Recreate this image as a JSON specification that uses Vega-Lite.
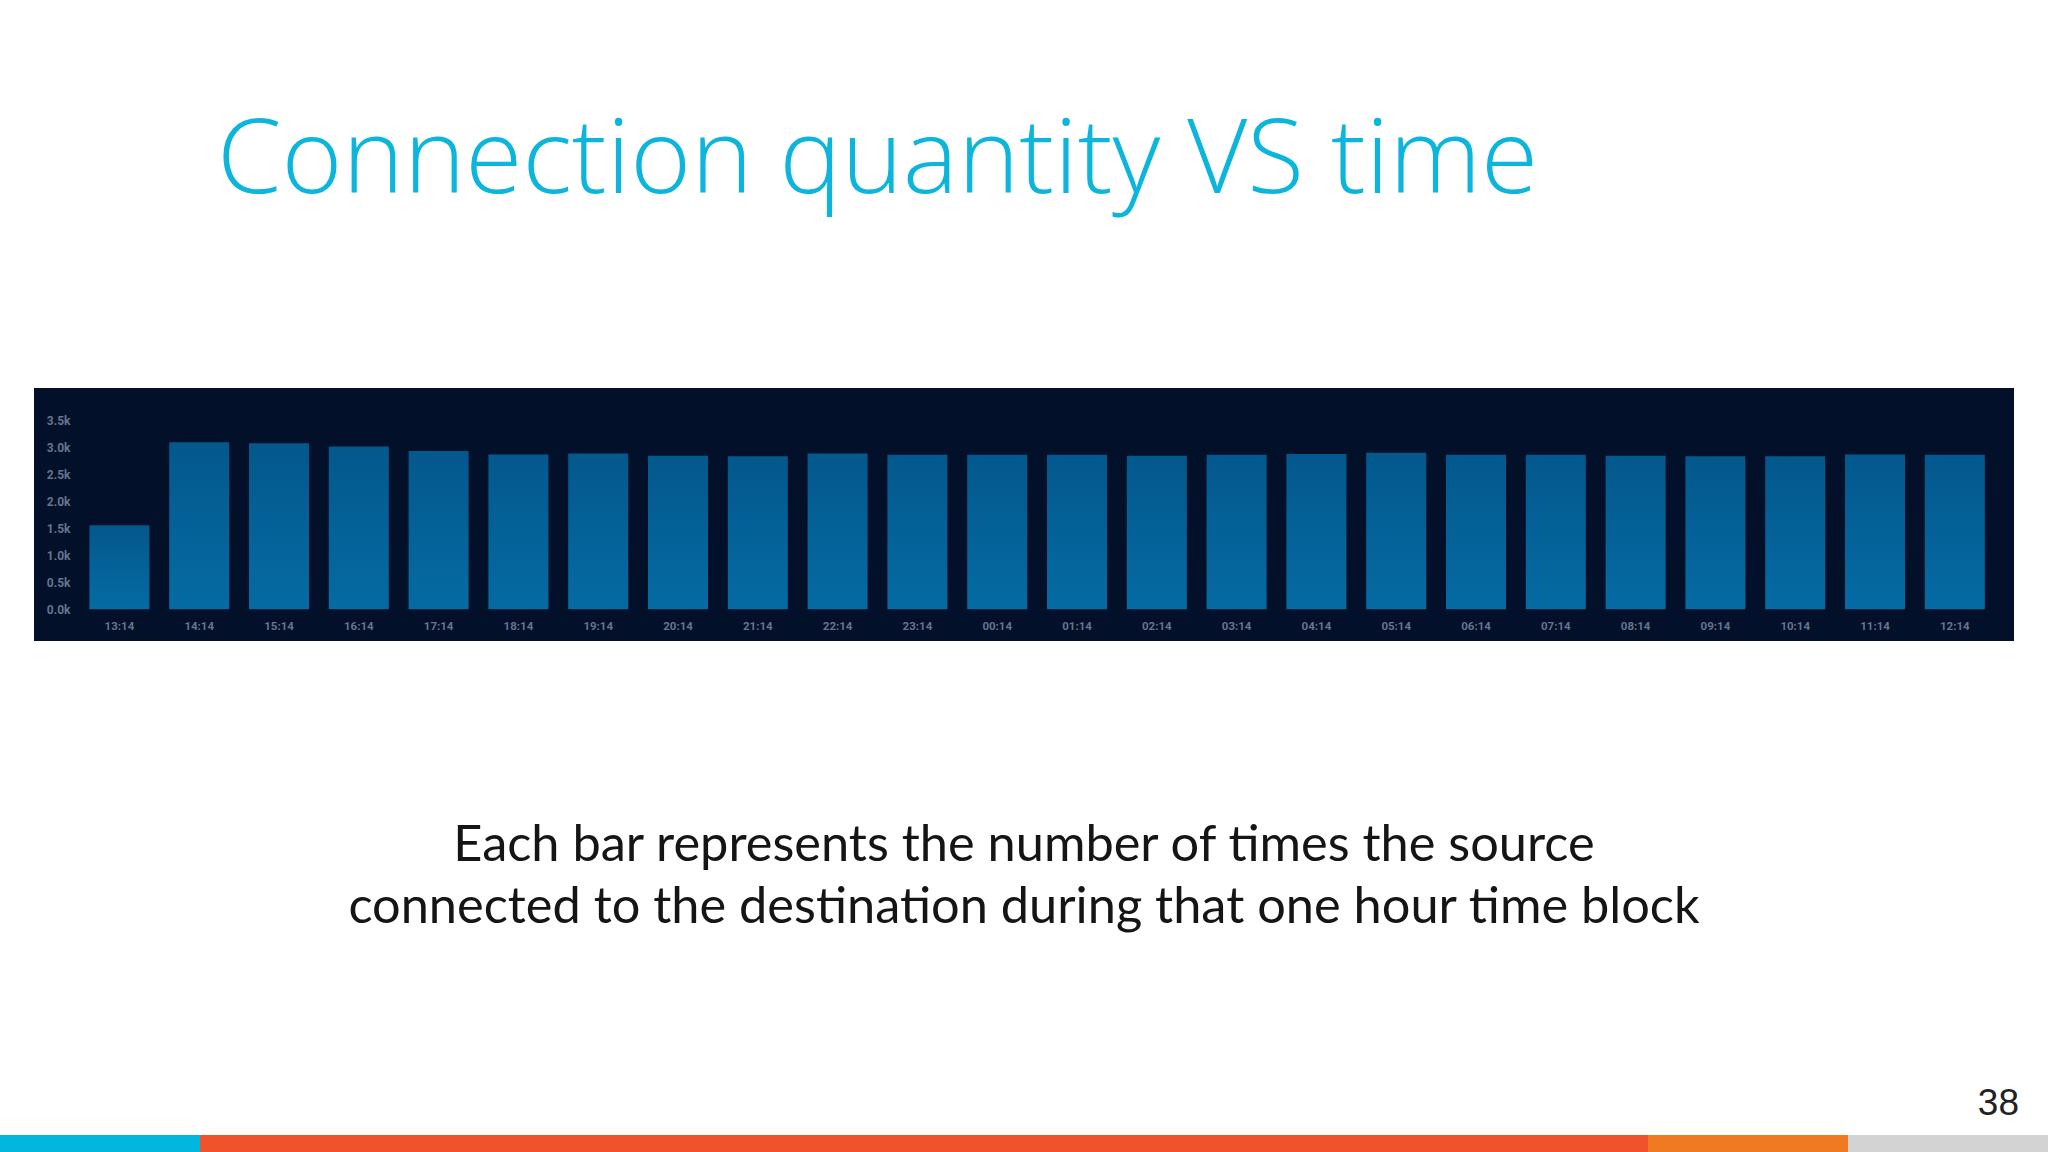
{
  "$schema": "https://vega.github.io/schema/vega-lite/v6.json",
  "background": "white",
  "padding": {"left": 0, "right": 0, "top": 110, "bottom": 0},
  "title": {
    "text": "Connection quantity VS time",
    "anchor": "start",
    "frame": "group",
    "dx": 217,
    "offset": 173,
    "font": "Open Sans",
    "fontWeight": 300,
    "fontSize": 104,
    "color": "#0bb5dc"
  },
  "center": true,
  "spacing": 151,
  "vconcat": [
    {
      "width": 1980,
      "height": 253,
      "view": {"fill": "#021029", "stroke": null},
      "title": {
        "text": [
          "Each bar represents the number of times the source",
          "connected to the destination during that one hour time block"
        ],
        "orient": "bottom",
        "anchor": "middle",
        "offset": 180,
        "font": "Lato",
        "fontWeight": 400,
        "fontSize": 50.5,
        "lineHeight": 62,
        "color": "#151515"
      },
      "data": {
        "values": [
          {"hour": "13:14", "connections": 1560},
          {"hour": "14:14", "connections": 3100},
          {"hour": "15:14", "connections": 3080},
          {"hour": "16:14", "connections": 3020},
          {"hour": "17:14", "connections": 2940},
          {"hour": "18:14", "connections": 2875},
          {"hour": "19:14", "connections": 2890},
          {"hour": "20:14", "connections": 2850},
          {"hour": "21:14", "connections": 2840},
          {"hour": "22:14", "connections": 2890},
          {"hour": "23:14", "connections": 2870},
          {"hour": "00:14", "connections": 2870},
          {"hour": "01:14", "connections": 2870},
          {"hour": "02:14", "connections": 2850},
          {"hour": "03:14", "connections": 2870},
          {"hour": "04:14", "connections": 2880},
          {"hour": "05:14", "connections": 2905},
          {"hour": "06:14", "connections": 2870},
          {"hour": "07:14", "connections": 2870},
          {"hour": "08:14", "connections": 2850},
          {"hour": "09:14", "connections": 2840},
          {"hour": "10:14", "connections": 2840},
          {"hour": "11:14", "connections": 2875},
          {"hour": "12:14", "connections": 2870}
        ]
      },
      "mark": {
        "type": "bar",
        "color": {
          "gradient": "linear",
          "x1": 0, "y1": 0, "x2": 0, "y2": 1,
          "stops": [
            {"offset": 0, "color": "#03588c"},
            {"offset": 1, "color": "#056ba3"}
          ]
        }
      },
      "encoding": {
        "x": {
          "field": "hour",
          "type": "ordinal",
          "sort": null,
          "scale": {"paddingInner": 0.248, "paddingOuter": 0.53, "align": 0.655},
          "axis": {
            "title": null,
            "offset": -23,
            "domain": false,
            "ticks": false,
            "grid": false,
            "labelAngle": 0,
            "labelPadding": 2,
            "labelColor": "#66748f",
            "labelFont": "Roboto",
            "labelFontWeight": "bold",
            "labelFontSize": 11.5
          }
        },
        "y": {
          "field": "connections",
          "type": "quantitative",
          "scale": {"domain": [-588, 4107], "nice": false, "zero": false},
          "axis": {
            "title": null,
            "values": [0, 500, 1000, 1500, 2000, 2500, 3000, 3500],
            "labelExpr": "format(datum.value / 1000, '.1f') + 'k'",
            "offset": -38,
            "domain": false,
            "ticks": false,
            "grid": false,
            "labelPadding": 2,
            "labelColor": "#66748f",
            "labelFont": "Roboto",
            "labelFontWeight": "bold",
            "labelFontSize": 12
          }
        }
      }
    },
    {
      "width": 2048,
      "height": 18,
      "view": {"stroke": null},
      "title": {
        "text": "38",
        "orient": "top",
        "anchor": "end",
        "dx": -29,
        "offset": 12,
        "font": "Liberation Sans",
        "fontWeight": 400,
        "fontSize": 37,
        "color": "#222222"
      },
      "data": {
        "values": [
          {"segment": "cyan", "order": 1, "length": 200},
          {"segment": "red", "order": 2, "length": 1448},
          {"segment": "orange", "order": 3, "length": 200},
          {"segment": "grey", "order": 4, "length": 200}
        ]
      },
      "mark": {"type": "bar", "height": 18},
      "encoding": {
        "x": {
          "field": "length",
          "type": "quantitative",
          "stack": "zero",
          "scale": {"domain": [0, 2048], "nice": false},
          "axis": null
        },
        "order": {"field": "order", "type": "quantitative"},
        "color": {
          "field": "segment",
          "type": "nominal",
          "scale": {
            "domain": ["cyan", "red", "orange", "grey"],
            "range": ["#00b8de", "#f0522c", "#f07a22", "#d3d3d3"]
          },
          "legend": null
        }
      }
    }
  ]
}
